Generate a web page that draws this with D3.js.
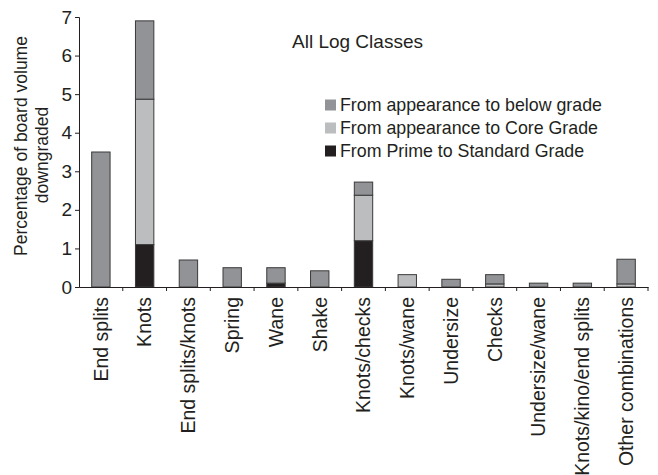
<!DOCTYPE html>
<html>
<head>
<meta charset="utf-8">
<script src="https://cdn.jsdelivr.net/npm/d3@7"></script>
<style>
  body { margin: 0; background: #fff; }
  svg text { font-family: "Liberation Sans", Arial, sans-serif; fill: #231f20; }
</style>
</head>
<body>
<div id="chart"></div>
<script>
// Categories and series (percent of board volume downgraded)
const categories = ["End splits", "Knots", "End splits/knots", "Spring", "Wane", "Shake",
  "Knots/checks", "Knots/wane", "Undersize", "Checks", "Undersize/wane",
  "Knots/kino/end splits", "Other combinations"]
const primeToStandard = [0, 1.1, 0, 0, 0.1, 0, 1.2, 0, 0, 0, 0, 0, 0]
const appearanceToCore = [0, 3.77, 0, 0, 0, 0, 1.18, 0.32, 0, 0.08, 0, 0, 0.08]
const appearanceToBelow = [3.5, 2.03, 0.7, 0.5, 0.4, 0.42, 0.34, 0, 0.2, 0.24, 0.1, 0.1, 0.64]
const yTicks = [0, 1, 2, 3, 4, 5, 6, 7]

const seriesKeys = ["prime", "core", "below"]
const seriesNames = {
  below: "From appearance to below grade",
  core: "From appearance to Core Grade",
  prime: "From Prime to Standard Grade"
}
const colors = { below: "#929396", core: "#bcbdbf", prime: "#231f20" }

const width = 658, height = 475
const plotLeft = 79, plotRight = 648, plotTop = 17, plotBottom = 287

const svg = d3.select("#chart").append("svg")
  .attr("width", width)
  .attr("height", height)

// build rows for the stack
const rows = categories.map((c, i) => ({
  cat: c, prime: primeToStandard[i], core: appearanceToCore[i], below: appearanceToBelow[i]
}))
const stacked = d3.stack().keys(seriesKeys)(rows)

const x = d3.scaleBand().domain(categories).range([plotLeft, plotRight])
  .paddingInner(0.58).paddingOuter(0.29)
const y = d3.scaleLinear().domain([0, 7]).range([plotBottom, plotTop])

// Bars
svg.append("g").selectAll("g")
  .data(stacked)
  .enter().append("g")
  .attr("fill", d => colors[d.key])
  .selectAll("rect")
  .data(d => d.filter(s => s[1] - s[0] > 0))
  .enter().append("rect")
  .attr("x", d => x(d.data.cat))
  .attr("y", d => y(d[1]))
  .attr("width", x.bandwidth())
  .attr("height", d => y(d[0]) - y(d[1]))
  .attr("stroke", "#3a3a3a")
  .attr("stroke-width", 1)

// Y axis
const yAxis = svg.append("g")
  .attr("transform", "translate(" + plotLeft + ",0)")
  .call(d3.axisLeft(y).tickValues(yTicks).tickFormat(d3.format("d")).tickSize(4).tickPadding(3))
yAxis.select(".domain").attr("stroke", "#231f20")
yAxis.selectAll(".tick line").attr("stroke", "#231f20")
yAxis.selectAll("text").style("font-size", "19px")

// X axis: labels at band centers, ticks at band boundaries
const xAxis = svg.append("g")
  .attr("transform", "translate(0," + plotBottom + ")")
  .call(d3.axisBottom(x).tickSize(0).tickSizeOuter(0))
xAxis.select(".domain").attr("stroke", "#231f20")
xAxis.selectAll("text")
  .style("font-size", "19.5px")
  .attr("text-anchor", "end")
  .attr("transform", "rotate(-90)")
  .attr("x", -10)
  .attr("y", 0)
  .attr("dy", "0.35em")

const bounds = d3.range(categories.length + 1).map(i => plotLeft + i * x.step())
svg.append("g").selectAll("line")
  .data(bounds.slice(1))
  .enter().append("line")
  .attr("x1", d => d).attr("x2", d => d)
  .attr("y1", plotBottom).attr("y2", plotBottom + 4)
  .attr("stroke", "#231f20")

// Y axis title
svg.append("text")
  .attr("transform", "translate(21,146) rotate(-90)")
  .attr("text-anchor", "middle")
  .attr("dy", "0.35em")
  .style("font-size", "17.5px")
  .text("Percentage of board volume")
svg.append("text")
  .attr("transform", "translate(42,155) rotate(-90)")
  .attr("text-anchor", "middle")
  .attr("dy", "0.35em")
  .style("font-size", "17.5px")
  .text("downgraded")

// Title
svg.append("text")
  .attr("x", 292).attr("y", 48)
  .style("font-size", "19px")
  .text("All Log Classes")

// Legend
const legendKeys = ["below", "core", "prime"]
const legend = svg.append("g").selectAll("g")
  .data(legendKeys)
  .enter().append("g")
  .attr("transform", (d, i) => "translate(325," + (105 + i * 23) + ")")
legend.append("rect")
  .attr("x", 0).attr("y", -5.5)
  .attr("width", 11).attr("height", 11)
  .attr("fill", d => colors[d])
legend.append("text")
  .attr("x", 15).attr("dy", "0.35em")
  .style("font-size", "17.8px")
  .text(d => seriesNames[d])
</script>
</body>
</html>
